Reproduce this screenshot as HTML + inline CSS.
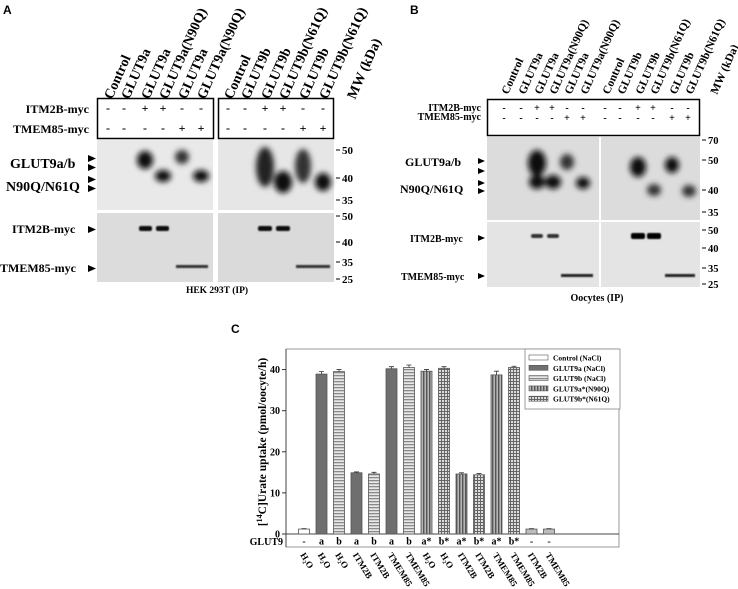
<!DOCTYPE html>
<html><head><meta charset="utf-8"><style>
html,body{margin:0;padding:0;background:#fff;}
svg{display:block;font-family:"Liberation Serif",serif;}
.b{font-weight:bold;}
</style></head><body>
<svg id="fig" width="738" height="589" viewBox="0 0 738 589" xmlns="http://www.w3.org/2000/svg">
<defs>
<filter id="bl" x="-80%" y="-80%" width="260%" height="260%"><feGaussianBlur stdDeviation="2.8"/></filter>
<filter id="bl1" x="-50%" y="-50%" width="200%" height="200%"><feGaussianBlur stdDeviation="0.8"/></filter>
<pattern id="ph" width="4" height="3" patternUnits="userSpaceOnUse"><rect width="4" height="3" fill="#e8e8e8"/><rect width="4" height="1.3" fill="#8a8a8a"/></pattern>
<pattern id="pv" width="3" height="4" patternUnits="userSpaceOnUse"><rect width="3" height="4" fill="#b5b5b5"/><rect width="1.4" height="4" fill="#555"/></pattern>
<pattern id="pg" width="3" height="3" patternUnits="userSpaceOnUse"><rect width="3" height="3" fill="#ddd"/><rect width="3" height="1" fill="#666"/><rect width="1" height="3" fill="#666"/></pattern>
</defs>

<!-- Panel A -->
<g>
<text x="3" y="14" font-family="Liberation Sans" class="b" font-size="12">A</text>
<g class="b" font-size="14">
<text transform="translate(112,100) rotate(-66)">Control</text>
<text transform="translate(129,100) rotate(-66)">GLUT9a</text>
<text transform="translate(149,100) rotate(-66)">GLUT9a</text>
<text transform="translate(167,100) rotate(-66)">GLUT9a(N90Q)</text>
<text transform="translate(186,100) rotate(-66)">GLUT9a</text>
<text transform="translate(205,100) rotate(-66)">GLUT9a(N90Q)</text>
<text transform="translate(232,100) rotate(-66)">Control</text>
<text transform="translate(249,100) rotate(-66)">GLUT9b</text>
<text transform="translate(269,100) rotate(-66)">GLUT9b</text>
<text transform="translate(287,100) rotate(-66)">GLUT9b(N61Q)</text>
<text transform="translate(307,100) rotate(-66)">GLUT9b</text>
<text transform="translate(327,100) rotate(-66)">GLUT9b(N61Q)</text>
<text transform="translate(355,100) rotate(-66)">MW (kDa)</text>
</g>
<rect x="97.5" y="98.5" width="116" height="40" fill="none" stroke="#000" stroke-width="1.5"/>
<rect x="218.5" y="98.5" width="115" height="40" fill="none" stroke="#000" stroke-width="1.5"/>
<g class="b" font-size="12" text-anchor="end"><text x="89" y="113">ITM2B-myc</text><text x="89" y="133">TMEM85-myc</text></g>
<g font-size="12" text-anchor="middle" class="b">
<text x="108" y="112">-</text><text x="124" y="112">-</text><text x="145" y="112">+</text><text x="163" y="112">+</text><text x="182" y="112">-</text><text x="201" y="112">-</text>
<text x="108" y="132">-</text><text x="124" y="132">-</text><text x="145" y="132">-</text><text x="163" y="132">-</text><text x="182" y="132">+</text><text x="201" y="132">+</text>
<text x="228" y="112">-</text><text x="245" y="112">-</text><text x="265" y="112">+</text><text x="283" y="112">+</text><text x="303" y="112">-</text><text x="323" y="112">-</text>
<text x="228" y="132">-</text><text x="245" y="132">-</text><text x="265" y="132">-</text><text x="283" y="132">-</text><text x="303" y="132">+</text><text x="323" y="132">+</text>
</g>
<rect x="97" y="140" width="116" height="70" fill="#e9e9e9"/>
<rect x="218" y="140" width="116" height="70" fill="#e6e6e6"/>
<rect x="97" y="213" width="116" height="69" fill="#dcdcdc"/>
<rect x="218" y="213" width="116" height="69" fill="#dadada"/>
<g filter="url(#bl)" fill="#111">
<ellipse cx="145" cy="160" rx="8" ry="9"/><ellipse cx="163" cy="176" rx="8" ry="6"/>
<ellipse cx="182" cy="157" rx="7" ry="7" fill="#333"/><ellipse cx="201" cy="176" rx="8" ry="6"/>
<ellipse cx="265" cy="167" rx="9" ry="20" fill="#222"/><ellipse cx="283" cy="182" rx="9" ry="11"/>
<ellipse cx="303" cy="166" rx="8" ry="17" fill="#333"/><ellipse cx="323" cy="182" rx="8" ry="9"/>
</g>
<g filter="url(#bl1)" fill="#111">
<rect x="139" y="226" width="13" height="5" rx="2"/><rect x="156" y="226" width="13" height="5" rx="2"/>
<rect x="258" y="226" width="14" height="5" rx="2"/><rect x="276" y="226" width="14" height="5" rx="2"/>
<rect x="176" y="265" width="32" height="3" fill="#333"/><rect x="296" y="265" width="34" height="3" fill="#333"/>
</g>
<g class="b" font-size="11"><g stroke="#000"><line x1="336" y1="150" x2="340" y2="150"/><line x1="336" y1="178" x2="340" y2="178"/><line x1="336" y1="200" x2="340" y2="200"/><line x1="336" y1="216" x2="340" y2="216"/><line x1="336" y1="242" x2="340" y2="242"/><line x1="336" y1="262" x2="340" y2="262"/><line x1="336" y1="279" x2="340" y2="279"/></g>
<text x="342" y="154">50</text><text x="342" y="182">40</text><text x="342" y="204">35</text><text x="342" y="220">50</text><text x="342" y="246">40</text><text x="342" y="266">35</text><text x="342" y="283">25</text></g>
<g class="b" font-size="14"><text x="10" y="168">GLUT9a/b</text><text x="6" y="191">N90Q/N61Q</text></g>
<g class="b" font-size="12"><text x="12" y="233">ITM2B-myc</text><text x="0" y="272">TMEM85-myc</text></g>
<g fill="#000"><path d="M88,155 l8,3.5 l-8,3.5z"/><path d="M88,164 l8,3.5 l-8,3.5z"/><path d="M88,176 l8,3.5 l-8,3.5z"/><path d="M88,185 l8,3.5 l-8,3.5z"/><path d="M88,226 l8,3.5 l-8,3.5z"/><path d="M88,265 l8,3.5 l-8,3.5z"/></g>
<text x="217" y="293" text-anchor="middle" class="b" font-size="9.5">HEK 293T (IP)</text>
</g>

<!-- Panel B -->
<g>
<text x="410" y="14" font-family="Liberation Sans" class="b" font-size="12">B</text>
<g class="b" font-size="11.5">
<text transform="translate(508,95) rotate(-66)">Control</text>
<text transform="translate(525,95) rotate(-66)">GLUT9a</text>
<text transform="translate(541,95) rotate(-66)">GLUT9a</text>
<text transform="translate(556,95) rotate(-66)">GLUT9a(N90Q)</text>
<text transform="translate(571,95) rotate(-66)">GLUT9a</text>
<text transform="translate(587,95) rotate(-66)">GLUT9a(N90Q)</text>
<text transform="translate(609,95) rotate(-66)">Control</text>
<text transform="translate(624,95) rotate(-66)">GLUT9b</text>
<text transform="translate(642,95) rotate(-66)">GLUT9b</text>
<text transform="translate(657,95) rotate(-66)">GLUT9b(N61Q)</text>
<text transform="translate(676,95) rotate(-66)">GLUT9b</text>
<text transform="translate(692,95) rotate(-66)">GLUT9b(N61Q)</text>
<text transform="translate(717,95) rotate(-66)">MW (kDa)</text>
</g>
<rect x="487.5" y="99.5" width="212" height="36" fill="none" stroke="#000" stroke-width="1.5"/>
<g class="b" font-size="10" text-anchor="end"><text x="481" y="111">ITM2B-myc</text><text x="481" y="120">TMEM85-myc</text></g>
<g font-size="10" text-anchor="middle" class="b">
<text x="504" y="111">-</text><text x="521" y="111">-</text><text x="537" y="111">+</text><text x="552" y="111">+</text><text x="567" y="111">-</text><text x="583" y="111">-</text>
<text x="605" y="111">-</text><text x="620" y="111">-</text><text x="638" y="111">+</text><text x="653" y="111">+</text><text x="672" y="111">-</text><text x="688" y="111">-</text>
<text x="504" y="121">-</text><text x="521" y="121">-</text><text x="537" y="121">-</text><text x="552" y="121">-</text><text x="567" y="121">+</text><text x="583" y="121">+</text>
<text x="605" y="121">-</text><text x="620" y="121">-</text><text x="638" y="121">-</text><text x="653" y="121">-</text><text x="672" y="121">+</text><text x="688" y="121">+</text>
</g>
<rect x="487" y="137" width="112" height="83" fill="#dcdcdc"/><rect x="601" y="137" width="99" height="83" fill="#dcdcdc"/>
<rect x="487" y="222" width="112" height="65" fill="#e4e4e4"/><rect x="601" y="222" width="99" height="65" fill="#e4e4e4"/>
<g filter="url(#bl)" fill="#111">
<ellipse cx="537" cy="163" rx="9" ry="13"/><ellipse cx="537" cy="182" rx="8" ry="7"/><ellipse cx="553" cy="182" rx="8" ry="7"/>
<ellipse cx="567" cy="162" rx="7" ry="8" fill="#333"/><ellipse cx="583" cy="183" rx="7" ry="6"/>
<ellipse cx="638" cy="167" rx="8" ry="10"/><ellipse cx="654" cy="190" rx="7" ry="6" fill="#333"/>
<ellipse cx="672" cy="165" rx="7" ry="8"/><ellipse cx="689" cy="191" rx="7" ry="6" fill="#333"/>
</g>
<g filter="url(#bl1)">
<rect x="531" y="234" width="12" height="4" rx="2" fill="#333"/><rect x="547" y="234" width="12" height="4" rx="2" fill="#333"/>
<rect x="631" y="233" width="14" height="6" rx="2" fill="#000"/><rect x="647" y="233" width="14" height="6" rx="2" fill="#000"/>
<rect x="561" y="274" width="32" height="3" fill="#222"/><rect x="665" y="274" width="30" height="3" fill="#222"/>
</g>
<g class="b" font-size="10.5"><g stroke="#000"><line x1="702" y1="140" x2="706" y2="140"/><line x1="702" y1="160" x2="706" y2="160"/><line x1="702" y1="190" x2="706" y2="190"/><line x1="702" y1="212" x2="706" y2="212"/><line x1="702" y1="230" x2="706" y2="230"/><line x1="702" y1="248" x2="706" y2="248"/><line x1="702" y1="268" x2="706" y2="268"/><line x1="702" y1="284" x2="706" y2="284"/></g>
<text x="708" y="144">70</text><text x="708" y="164">50</text><text x="708" y="194">40</text><text x="708" y="216">35</text><text x="708" y="234">50</text><text x="708" y="252">40</text><text x="708" y="272">35</text><text x="708" y="288">25</text></g>
<g class="b" font-size="12"><text x="405" y="166">GLUT9a/b</text><text x="400" y="193">N90Q/N61Q</text></g>
<g class="b" font-size="10"><text x="410" y="242">ITM2B-myc</text><text x="401" y="280">TMEM85-myc</text></g>
<g fill="#000"><path d="M478,158 l7,3 l-7,3z"/><path d="M478,168 l7,3 l-7,3z"/><path d="M478,180 l7,3 l-7,3z"/><path d="M478,188 l7,3 l-7,3z"/><path d="M478,235 l7,3 l-7,3z"/><path d="M478,273 l7,3 l-7,3z"/></g>
<text x="597" y="301" text-anchor="middle" class="b" font-size="10">Oocytes (IP)</text>
</g>

<!-- Panel C -->
<text x="231" y="333" font-family="Liberation Sans" class="b" font-size="12">C</text>
<g id="chart"></g>
</svg>
<script>
const categories = ["H₂O","H₂O","H₂O","ITM2B","ITM2B","TMEM85","TMEM85","H₂O","H₂O","ITM2B","ITM2B","TMEM85","TMEM85","ITM2B","TMEM85"];
const glut9Labels = ["-","a","b","a","b","a","b","a*","b*","a*","b*","a*","b*","-","-"];
const uptakeValues = [1.2,38.9,39.5,14.9,14.6,40.2,40.5,39.6,40.3,14.6,14.4,38.7,40.5,1.2,1.2];
const errorValues = [0.1,0.6,0.5,0.2,0.4,0.5,0.6,0.4,0.4,0.3,0.3,0.9,0.3,0.1,0.1];
const seriesKeys = ["ctrl","a","b","a","b","a","b","as","bs","as","bs","as","bs","lg","lg"];
const yTicks = [0,10,20,30,40];
const legendLabels = ["Control (NaCl)","GLUT9a (NaCl)","GLUT9b (NaCl)","GLUT9a*(N90Q)","GLUT9b*(N61Q)"];
const legendKeys = ["ctrl","a","b","as","bs"];

const NS="http://www.w3.org/2000/svg";
const g=document.getElementById('chart');
const L=286,R=619,T=349,B=534,YMAX=45;
function y(v){return B-(v/YMAX)*(B-T);}
function x(i){return 304+i*17.5;}
function fillFor(k){return {ctrl:"#fff",a:"#6f6f6f",b:"url(#ph)",as:"url(#pv)",bs:"url(#pg)",lg:"#bdbdbd"}[k];}
function mk(tag,attrs,parent){const e=document.createElementNS(NS,tag);for(const k in attrs)e.setAttribute(k,attrs[k]);(parent||g).appendChild(e);return e;}

mk('rect',{x:L,y:T,width:R-L,height:B-T,fill:"none",stroke:"#999","stroke-width":1});
mk('rect',{x:L,y:B,width:R-L,height:13,fill:"none",stroke:"#999","stroke-width":1});
mk('line',{x1:L,y1:T,x2:L,y2:B+13,stroke:"#444","stroke-width":1});
mk('line',{x1:L,y1:B,x2:R,y2:B,stroke:"#444","stroke-width":1});
yTicks.forEach(t=>{
  const tk=mk('line',{x1:L-4,y1:y(t),x2:L,y2:y(t),stroke:"#333"});
  
  
  const tl=mk('text',{x:L-6,y:y(t)+3.5,"text-anchor":"end","font-size":10,"font-weight":"bold"});
  tl.textContent=t;
  
  
});
const yt=mk('text',{transform:"translate(266,442) rotate(-90)","text-anchor":"middle","font-size":11.5,"font-weight":"bold"});
yt.innerHTML='[<tspan font-size="8" dy="-4">14</tspan><tspan dy="4">C]Urate uptake (pmol/oocyte/h)</tspan>';


const gl=mk('text',{x:283,y:545,"text-anchor":"end","font-size":10,"font-weight":"bold"});
gl.textContent="GLUT9";



uptakeValues.forEach((v,i)=>{
  const cx=x(i),w=11;
  const bar=mk('rect',{x:cx-w/2,y:y(v),width:w,height:B-y(v),fill:fillFor(seriesKeys[i]),stroke:"#555","stroke-width":0.8});
  
  
  const e=errorValues[i];
  const eb=mk('path',{d:`M${cx},${y(v)} V${y(v+e)} M${cx-2.5},${y(v+e)} H${cx+2.5}`,stroke:"#333","stroke-width":0.8,fill:"none"});
  
  
  const gt=mk('text',{x:cx,y:B+10.5,"text-anchor":"middle","font-size":10,"font-weight":"bold"});
  gt.textContent=glut9Labels[i];
  
  
  const xl=mk('text',{transform:`translate(${cx-4},555) rotate(58)`,"font-size":9,"font-weight":"bold"});
  xl.textContent=categories[i];
  
  
});

const lg=mk('g',{});


mk('rect',{x:525,y:349,width:95,height:60,fill:"#fff",stroke:"#888","stroke-width":0.8},lg);
legendLabels.forEach((s,i)=>{
  const yy=358+i*10.3;
  const sw=mk('rect',{x:529,y:yy-3,width:19,height:5,fill:fillFor(legendKeys[i]),stroke:"#555","stroke-width":0.6},lg);
  
  
  const t=mk('text',{x:553,y:yy+2.5,"font-size":7.5,"font-weight":"bold"},lg);
  t.textContent=s;
  
  
});
</script>
</body></html>
